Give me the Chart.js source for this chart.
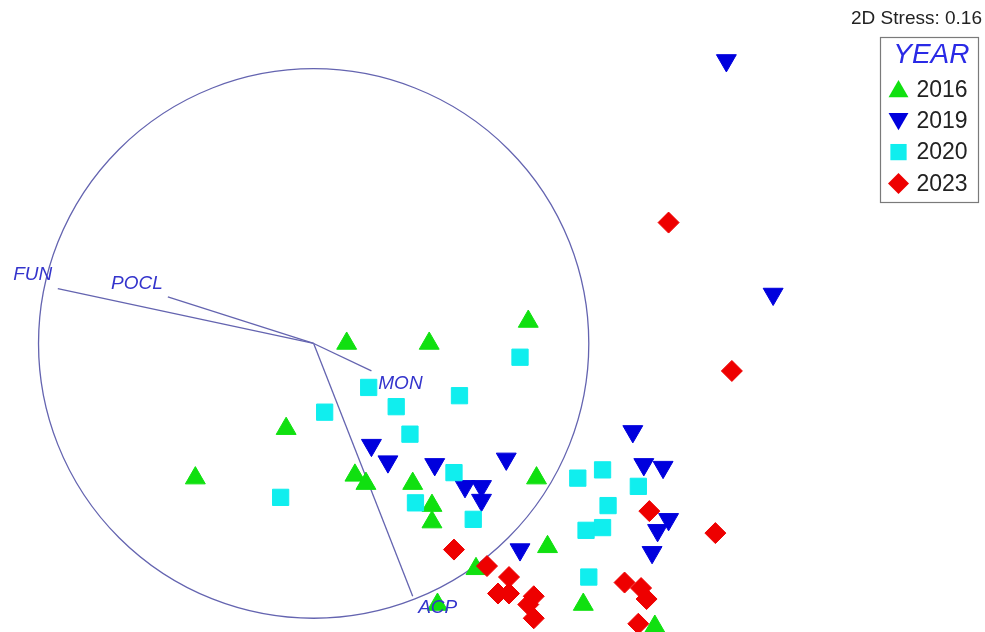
<!DOCTYPE html>
<html>
<head>
<meta charset="utf-8">
<title>nMDS ordination by year</title>
<script src="https://cdn.jsdelivr.net/npm/chart.js@4/dist/chart.umd.min.js"></script>
<style>
  html, body { margin: 0; padding: 0; background: #ffffff; }
  #wrap { width: 985px; height: 632px; }
</style>
</head>
<body>
<div id="wrap"><canvas id="mds" width="985" height="632"></canvas></div>
<script>
// nMDS coordinates (units of the vector correlation circle)
const years = ['2016', '2019', '2020', '2023'];

const x2016 = [0.12, 0.42, 0.78, -0.10, -0.43, 0.15, 0.19, 0.36, 0.43, 0.43, 0.81, 0.85, 0.59, 0.45, 0.98, 1.24];
const y2016 = [0.00, 0.00, 0.08, -0.31, -0.49, -0.48, -0.51, -0.51, -0.59, -0.65, -0.49, -0.74, -0.82, -0.95, -0.95, -1.03];

const x2019 = [1.50, 1.67, 0.21, 0.27, 0.44, 0.70, 0.55, 0.61, 0.61, 0.75, 1.16, 1.20, 1.27, 1.29, 1.25, 1.23];
const y2019 = [1.03, 0.18, -0.37, -0.43, -0.44, -0.42, -0.52, -0.52, -0.57, -0.75, -0.32, -0.44, -0.45, -0.64, -0.68, -0.76];

const x2020 = [0.75, 0.20, 0.53, 0.30, 0.04, 0.35, -0.12, 0.51, 0.37, 0.58, 0.96, 1.05, 1.18, 1.07, 1.05, 0.99, 1.00];
const y2020 = [-0.05, -0.16, -0.19, -0.23, -0.25, -0.33, -0.56, -0.47, -0.58, -0.64, -0.49, -0.46, -0.52, -0.59, -0.67, -0.68, -0.85];

const x2023 = [1.29, 1.52, 1.22, 1.46, 0.51, 0.63, 0.71, 0.67, 0.71, 0.80, 0.78, 0.80, 1.13, 1.19, 1.21, 1.18];
const y2023 = [0.44, -0.10, -0.61, -0.69, -0.75, -0.81, -0.85, -0.91, -0.91, -0.92, -0.95, -1.00, -0.87, -0.89, -0.93, -1.02];

// Vector overlay (Pearson correlations with the ordination axes)
const vectorNames = ['FUN', 'POCL', 'MON', 'ACP'];
const vectorX = [-0.93, -0.53, 0.21, 0.36];
const vectorY = [0.20, 0.17, -0.10, -0.92];

const stress = 0.16;

const pts = (xs, ys) => xs.map((x, i) => ({ x: x, y: ys[i] }));

const seriesStyle = {
  '2016': { color: '#10e010', style: 'triangle', rotation: 0, radius: 11.5 },
  '2019': { color: '#0000dd', style: 'triangle', rotation: 180, radius: 11.5 },
  '2020': { color: '#10eeee', style: 'rect', rotation: 0, radius: 11.5 },
  '2023': { color: '#ee0000', style: 'rectRot', rotation: 0, radius: 10.5 }
};

const seriesData = {
  '2016': pts(x2016, y2016),
  '2019': pts(x2019, y2019),
  '2020': pts(x2020, y2020),
  '2023': pts(x2023, y2023)
};

// later years are painted on top
const datasets = years.map((yr, i) => {
  const s = seriesStyle[yr];
  return {
    label: yr,
    data: seriesData[yr],
    order: years.length - i,
    pointStyle: s.style,
    rotation: s.rotation,
    pointRotation: s.rotation,
    pointRadius: s.radius,
    pointHoverRadius: s.radius,
    backgroundColor: s.color,
    borderColor: s.color,
    borderWidth: 1,
    showLine: false
  };
});

const FONT = '"Liberation Sans", Arial, sans-serif';
const LINE_COLOR = '#6464b0';
const LABEL_COLOR = '#3434cc';

// label offsets (px) from each vector tip
const labelOffset = {
  FUN: [-25, -14],
  POCL: [-31, -13],
  MON: [29, 13],
  ACP: [25, 11]
};

const vectorPlugin = {
  id: 'vectorOverlay',
  beforeDatasetsDraw(chart) {
    const { ctx, scales: { x, y } } = chart;
    const cx = x.getPixelForValue(0), cy = y.getPixelForValue(0);
    const rx = x.getPixelForValue(1) - cx;
    const ry = cy - y.getPixelForValue(1);
    ctx.save();
    ctx.strokeStyle = LINE_COLOR;
    ctx.lineWidth = 1.3;
    ctx.beginPath();
    ctx.ellipse(cx, cy, rx, ry, 0, 0, Math.PI * 2);
    ctx.stroke();
    vectorNames.forEach((n, i) => {
      ctx.beginPath();
      ctx.moveTo(cx, cy);
      ctx.lineTo(x.getPixelForValue(vectorX[i]), y.getPixelForValue(vectorY[i]));
      ctx.stroke();
    });
    ctx.restore();
  },
  afterDatasetsDraw(chart) {
    const { ctx, scales: { x, y } } = chart;
    ctx.save();
    ctx.fillStyle = LABEL_COLOR;
    ctx.font = 'italic 19px ' + FONT;
    ctx.textAlign = 'center';
    ctx.textBaseline = 'middle';
    vectorNames.forEach((n, i) => {
      const off = labelOffset[n];
      ctx.fillText(n, x.getPixelForValue(vectorX[i]) + off[0], y.getPixelForValue(vectorY[i]) + off[1]);
    });
    ctx.restore();
  }
};

function drawMarker(ctx, style, color, r, px, py) {
  ctx.fillStyle = color;
  ctx.beginPath();
  if (style.style === 'triangle') {
    const dir = style.rotation === 180 ? -1 : 1;
    const h = r * 1.5, w = r * Math.sqrt(3);
    const top = py - dir * r;
    ctx.moveTo(px, top);
    ctx.lineTo(px - w / 2, top + dir * h);
    ctx.lineTo(px + w / 2, top + dir * h);
  } else if (style.style === 'rect') {
    const s = r * Math.SQRT1_2;
    ctx.rect(px - s, py - s, 2 * s, 2 * s);
  } else {
    ctx.moveTo(px, py - r);
    ctx.lineTo(px + r, py);
    ctx.lineTo(px, py + r);
    ctx.lineTo(px - r, py);
  }
  ctx.closePath();
  ctx.fill();
}

const legendPlugin = {
  id: 'yearLegend',
  afterDraw(chart) {
    const ctx = chart.ctx;
    const right = chart.width - 3;
    ctx.save();
    // stress value
    ctx.fillStyle = '#222222';
    ctx.font = '19px ' + FONT;
    ctx.textAlign = 'right';
    ctx.textBaseline = 'middle';
    ctx.fillText('2D Stress: ' + stress.toFixed(2), right, 19);

    // legend frame
    const bx = 880.5, by = 37.5, bw = 98, bh = 165;
    ctx.strokeStyle = '#7a7a7a';
    ctx.lineWidth = 1.2;
    ctx.strokeRect(bx, by, bw, bh);

    ctx.fillStyle = '#2a2ae6';
    ctx.font = 'italic 28px ' + FONT;
    ctx.textAlign = 'right';
    ctx.fillText('YEAR', bx + bw - 9, by + 18);

    ctx.font = '23px ' + FONT;
    ctx.textAlign = 'left';
    years.forEach((yr, i) => {
      const s = seriesStyle[yr];
      const rowY = by + 52 + i * 31.3;
      const my = s.style === 'triangle' ? rowY + (s.rotation === 180 ? -2 : 2) : rowY;
      drawMarker(ctx, s, s.color, s.style === 'rectRot' ? 10.5 : 11.5, bx + 18, my);
      ctx.fillStyle = '#222222';
      ctx.fillText(yr, bx + 36, rowY + 1);
    });
    ctx.restore();
  }
};

new Chart(document.getElementById('mds'), {
  type: 'scatter',
  data: { datasets: datasets },
  options: {
    responsive: false,
    animation: false,
    layout: { padding: 0, autoPadding: false },
    scales: {
      x: { type: 'linear', min: -1.14, max: 2.44, display: false },
      y: { type: 'linear', min: -1.05, max: 1.25, display: false }
    },
    plugins: {
      legend: { display: false },
      tooltip: { enabled: false }
    }
  },
  plugins: [vectorPlugin, legendPlugin]
});
</script>
</body>
</html>
